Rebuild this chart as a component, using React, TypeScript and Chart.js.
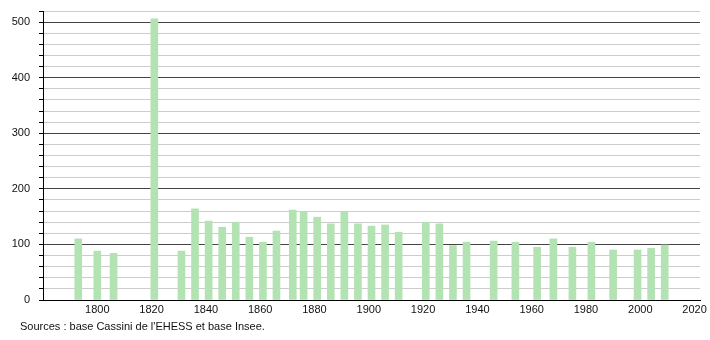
import React, { useEffect, useRef } from "react";
import { Chart, registerables } from "chart.js";

Chart.register(...registerables);

const years = [1793, 1800, 1806, 1821, 1831, 1836, 1841, 1846, 1851, 1856, 1861, 1866, 1872, 1876, 1881, 1886, 1891, 1896, 1901, 1906, 1911, 1921, 1926, 1931, 1936, 1946, 1954, 1962, 1968, 1975, 1982, 1990, 1999, 2004, 2009];
const population = [110, 88, 84, 506, 88, 164, 142, 131, 140, 113, 104, 124, 162, 159, 149, 137, 159, 137, 133, 135, 122, 140, 137, 98, 104, 106, 104, 95, 110, 95, 104, 90, 90, 93, 99];
const xTickLabels = [1800, 1820, 1840, 1860, 1880, 1900, 1920, 1940, 1960, 1980, 2000, 2020];
const yTickLabels = [0, 100, 200, 300, 400, 500];
const sourceText = "Sources : base Cassini de l'EHESS et base Insee.";

const FONT = "'Liberation Sans', Arial, sans-serif";

export default function App() {
  const ref = useRef<HTMLCanvasElement | null>(null);
  useEffect(() => {
    if (!ref.current) return;
    const sourcePlugin = {
      id: "sourceText",
      afterDraw(chart: any) {
        const ctx = chart.ctx;
        ctx.save();
        ctx.font = `11px ${FONT}`;
        ctx.fillStyle = "#111";
        ctx.textAlign = "left";
        ctx.textBaseline = "middle";
        ctx.fillText(sourceText, 20, 327);
        ctx.restore();
      },
    };
    const chart = new Chart(ref.current, {
      type: "bar",
      data: {
        datasets: [
          {
            data: years.map((y, i) => ({ x: y, y: population[i] })),
            backgroundColor: "#b3e3b3",
            borderWidth: 0,
            barThickness: 7,
          },
        ],
      },
      options: {
        animation: false,
        responsive: false,
        maintainAspectRatio: false,
        layout: { padding: { top: 11, right: 10, left: 0, bottom: 0 } },
        plugins: { legend: { display: false }, tooltip: { enabled: false }, title: { display: false } },
        scales: {
          x: {
            type: "linear",
            offset: false,
            min: 1780,
            max: 2022,
            grid: { display: false, drawTicks: false, offset: false },
            border: { display: true, color: "#000", width: 1 },
            afterBuildTicks: (scale: any) => {
              scale.ticks = xTickLabels.map((v) => ({ value: v }));
            },
            ticks: {
              autoSkip: false,
              maxRotation: 0,
              padding: 3,
              color: "#111",
              font: { family: FONT, size: 11 },
              callback: (v: any) => String(v),
            },
            afterFit: (scale: any) => {
              scale.height = 40;
              scale.paddingLeft = 0;
              scale.paddingRight = 0;
            },
          },
          y: {
            type: "linear",
            min: 0,
            max: 520,
            grid: {
              color: (c: any) => {
                const v = c.tick ? c.tick.value : 0;
                if (v === 0) return "#000";
                return v % 100 === 0 ? "#444" : "#cccccc";
              },
              lineWidth: 1,
              tickLength: 4,
              tickColor: "#000",
            },
            border: { display: true, color: "#000", width: 1 },
            afterBuildTicks: (scale: any) => {
              const t = [];
              for (let v = 0; v <= 520; v += 20) t.push({ value: v });
              scale.ticks = t;
            },
            ticks: {
              autoSkip: false,
              padding: 9,
              color: "#111",
              font: { family: FONT, size: 11 },
              callback: (v: any) => (yTickLabels.includes(Number(v)) ? String(v) : ""),
            },
            afterFit: (scale: any) => {
              scale.width = 43;
              scale.paddingTop = 0;
              scale.paddingBottom = 0;
            },
          },
        },
      },
      plugins: [sourcePlugin],
    });
    return () => chart.destroy();
  }, []);
  return (
    <div style={{ position: "fixed", left: 0, top: 0, width: 710, height: 340, background: "#fff" }}>
      <canvas ref={ref} width={710} height={340} style={{ width: 710, height: 340 }} />
    </div>
  );
}
